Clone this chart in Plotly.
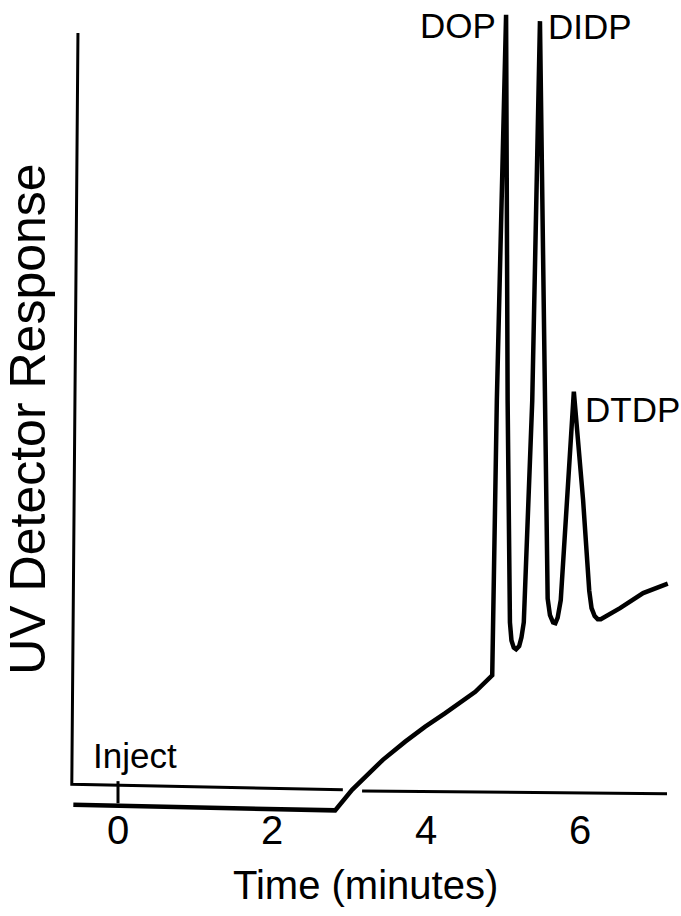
import plotly.graph_objects as go

# Chromatogram trace: time (min) vs UV detector response (arbitrary units)
time_min = [-0.58, 2.82, 3.04, 3.44, 3.73, 3.99, 4.25, 4.44, 4.64, 4.86,
            4.92, 5.04, 5.06, 5.09, 5.11, 5.14, 5.17, 5.21, 5.24, 5.27, 5.38,
            5.48, 5.55, 5.58, 5.61, 5.65, 5.68, 5.71, 5.75, 5.83,
            5.92, 6.04, 6.12, 6.15, 6.19, 6.23, 6.27, 6.52, 6.82, 7.14]
response = [0.4, -0.3, 2.3, 6.1, 8.4, 10.3, 12.0, 13.3, 14.7, 16.8,
            51.6, 100.4, 51.6, 23.5, 21.2, 20.3, 20.1, 20.5, 21.6, 23.5, 51.6,
            99.6, 51.6, 26.5, 24.4, 23.5, 23.4, 24.1, 26.3, 39.0,
            52.7, 39.0, 27.5, 25.3, 24.3, 23.9, 23.9, 25.3, 27.2, 28.4]

# Peaks
peak_names = ["DOP", "DIDP", "DTDP"]
peak_time = [5.04, 5.48, 5.92]
peak_resp = [100.4, 99.6, 52.7]

# Recorder frame (hand-drawn axes) and inject mark
frame_x = [-0.52, -0.60, 2.92, None, 3.17, 7.13]
frame_y = [98.1, 3.0, 2.3, None, 2.15, 1.8]
inject_x = [0, 0]
inject_y = [3.4, 0.6]

tick_vals = [0, 2, 4, 6]
tick_text = ["0", "2", "4", "6"]

FONT = "Liberation Sans, Arial, sans-serif"

fig = go.Figure()
fig.add_trace(go.Scatter(x=frame_x, y=frame_y, mode="lines",
                         line=dict(color="black", width=3), hoverinfo="skip"))
fig.add_trace(go.Scatter(x=inject_x, y=inject_y, mode="lines",
                         line=dict(color="black", width=3), hoverinfo="skip"))
fig.add_trace(go.Scatter(x=time_min, y=response, mode="lines",
                         line=dict(color="black", width=4.5)))

# peak labels
label_cfg = {
    "DOP": dict(xanchor="right", xshift=-8, yshift=-11),
    "DIDP": dict(xanchor="left", xshift=6, yshift=-5),
    "DTDP": dict(xanchor="left", xshift=9, yshift=-18),
}
for name, px, py in zip(peak_names, peak_time, peak_resp):
    c = label_cfg[name]
    fig.add_annotation(x=px, y=py, text=name, showarrow=False,
                       xanchor=c["xanchor"], yanchor="middle",
                       xshift=c["xshift"], yshift=c["yshift"],
                       font=dict(size=35, color="black", family=FONT))

fig.add_annotation(x=inject_x[0], y=inject_y[0], text="Inject", showarrow=False,
                   xanchor="left", yanchor="middle", xshift=-27, yshift=26,
                   font=dict(size=35, color="black", family=FONT))

# tick labels on the time axis
for tv, tt in zip(tick_vals, tick_text):
    fig.add_annotation(x=tv, xref="x", yref="paper", y=-0.019, text=tt,
                       showarrow=False, xanchor="center", yanchor="middle",
                       font=dict(size=40, color="black", family=FONT))

fig.add_annotation(xref="paper", yref="paper", x=-0.052, y=0.488,
                   text="UV Detector Response", textangle=-90, showarrow=False,
                   xanchor="center", yanchor="middle",
                   font=dict(size=50, color="black", family=FONT))
fig.add_annotation(xref="paper", yref="paper", x=0.497, y=-0.086,
                   text="Time (minutes)", showarrow=False,
                   xanchor="center", yanchor="middle",
                   font=dict(size=40, color="black", family=FONT))

fig.update_layout(
    width=681, height=916,
    margin=dict(l=60, r=6, t=5, b=101),
    paper_bgcolor="white", plot_bgcolor="white",
    showlegend=False,
    xaxis=dict(range=[-0.7532, 7.2338], showgrid=False, zeroline=False,
               showline=False, ticks="", showticklabels=False),
    yaxis=dict(range=[-0.886, 101.646], showgrid=False, zeroline=False,
               showline=False, ticks="", showticklabels=False),
)

fig.write_html("out.html")
